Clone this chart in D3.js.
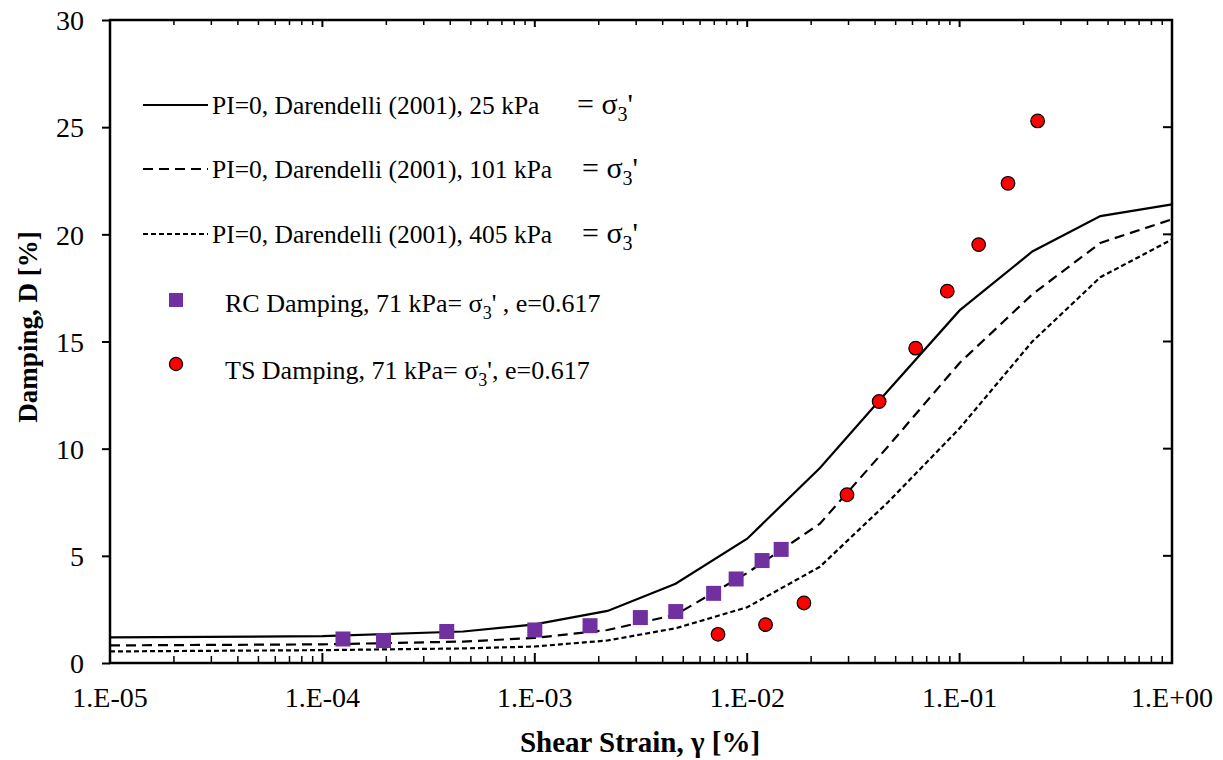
<!DOCTYPE html>
<html>
<head>
<meta charset="utf-8">
<script src="https://cdn.jsdelivr.net/npm/d3@7"></script>
<style>
  body { margin: 0; background: #fff; }
  svg text { font-family: "Liberation Serif", "Times New Roman", serif; fill: #000; }
</style>
</head>
<body>
<svg id="chart" width="1223" height="760"></svg>
<script>
// Darendelli curves, strain in %
const curveStrain = [1e-5, 1e-4, 4.6e-4, 1e-3, 2.2e-3, 4.6e-3, 1e-2, 2.2e-2, 4.6e-2, 1e-1, 2.2e-1, 4.6e-1, 1];
const d25 = [1.2, 1.25, 1.47, 1.8, 2.43, 3.7, 5.8, 9.1, 12.7, 16.45, 19.2, 20.85, 21.4];
const d101 = [0.82, 0.87, 1.0, 1.17, 1.54, 2.25, 4.2, 6.5, 10.1, 14.0, 17.2, 19.6, 20.7];
const d405 = [0.54, 0.6, 0.68, 0.77, 1.05, 1.62, 2.6, 4.49, 7.5, 10.95, 15.0, 18.0, 19.76];

// measured data
const rcStrain = [1.25e-4, 1.94e-4, 3.85e-4, 1.0e-3, 1.82e-3, 3.14e-3, 4.61e-3, 6.95e-3, 8.87e-3, 1.175e-2, 1.445e-2];
const rcDamping = [1.12, 1.05, 1.47, 1.54, 1.74, 2.12, 2.4, 3.25, 3.92, 4.78, 5.3];
const tsStrain = [7.29e-3, 1.22e-2, 1.85e-2, 2.95e-2, 4.18e-2, 6.21e-2, 8.75e-2, 0.123, 0.169, 0.233];
const tsDamping = [1.34, 1.79, 2.8, 7.85, 12.2, 14.69, 17.35, 19.52, 22.38, 25.29];

const xTicks = [1e-5, 1e-4, 1e-3, 1e-2, 1e-1, 1];
const xTickLabels = ["1.E-05", "1.E-04", "1.E-03", "1.E-02", "1.E-01", "1.E+00"];
const yTicks = [0, 5, 10, 15, 20, 25, 30];

const plotLeft = 110, plotRight = 1172, plotTop = 20, plotBottom = 663;
const serif = "Liberation Serif, Times New Roman, serif";
const svg = d3.select("#chart");

const x = d3.scaleLog().domain([1e-5, 1]).range([plotLeft, plotRight]);
const y = d3.scaleLinear().domain([0, 30]).range([plotBottom, plotTop]);

// minor ticks for log axis
const minorTicks = [];
for (let e = -5; e < 0; e++) {
  for (let m = 2; m <= 9; m++) minorTicks.push(m * Math.pow(10, e));
}

// bottom axis (ticks inward)
const gx = svg.append("g").attr("transform", "translate(0," + plotBottom + ")");
gx.selectAll("line.minor").data(minorTicks).enter().append("line")
  .attr("x1", d => x(d)).attr("x2", d => x(d)).attr("y1", 0).attr("y2", -7)
  .attr("stroke", "#000").attr("stroke-width", 1.5);
gx.selectAll("line.major").data(xTicks).enter().append("line")
  .attr("x1", d => x(d)).attr("x2", d => x(d)).attr("y1", 0).attr("y2", -10)
  .attr("stroke", "#000").attr("stroke-width", 2);
gx.selectAll("text").data(xTicks).enter().append("text")
  .attr("x", d => x(d)).attr("y", 44)
  .attr("text-anchor", "middle").attr("font-family", serif).style("font-size", "28px")
  .text((d, i) => xTickLabels[i]);

// top axis (ticks inward)
const gt = svg.append("g").attr("transform", "translate(0," + plotTop + ")");
gt.selectAll("line.minor").data(minorTicks).enter().append("line")
  .attr("x1", d => x(d)).attr("x2", d => x(d)).attr("y1", 0).attr("y2", 5)
  .attr("stroke", "#000").attr("stroke-width", 1.5);
gt.selectAll("line.major").data(xTicks).enter().append("line")
  .attr("x1", d => x(d)).attr("x2", d => x(d)).attr("y1", 0).attr("y2", 7)
  .attr("stroke", "#000").attr("stroke-width", 2);

// left axis
const gy = svg.append("g").attr("transform", "translate(" + plotLeft + ",0)");
gy.call(d3.axisLeft(y).tickValues(yTicks).tickSize(8).tickPadding(18).tickFormat(d3.format("d")))
  .call(g => g.select(".domain").remove());
gy.selectAll("line").attr("stroke-width", 2);
gy.selectAll("text").attr("dy", "0.35em").style("font-size", "28px").style("font-family", serif);

// right axis ticks inward
svg.append("g").selectAll("line").data(yTicks).enter().append("line")
  .attr("x1", plotRight).attr("x2", plotRight - 9).attr("y1", d => y(d)).attr("y2", d => y(d))
  .attr("stroke", "#000").attr("stroke-width", 2);

// frame
svg.append("rect").attr("x", plotLeft).attr("y", plotTop)
  .attr("width", plotRight - plotLeft).attr("height", plotBottom - plotTop)
  .attr("fill", "none").attr("stroke", "#000").attr("stroke-width", 2.5);

// axis titles
svg.append("text").attr("x", 640).attr("y", 752).attr("text-anchor", "middle")
  .attr("font-family", serif).style("font-size", "29px").style("font-weight", "bold")
  .text("Shear Strain, γ [%]");
svg.append("text").attr("transform", "translate(37,327) rotate(-90)")
  .attr("text-anchor", "middle").attr("font-family", serif)
  .style("font-size", "27px").style("font-weight", "bold").text("Damping, D [%]");

// curves
const line = d3.line().x(d => x(d[0])).y(d => y(d[1]));
const curves = [
  { vals: d25, dash: null },
  { vals: d101, dash: "10,6" },
  { vals: d405, dash: "5,3" }
];
curves.forEach(c => {
  svg.append("path")
    .datum(curveStrain.map((s, i) => [s, c.vals[i]]))
    .attr("d", line).attr("fill", "none").attr("stroke", "#000").attr("stroke-width", 2.2)
    .attr("stroke-dasharray", c.dash);
});

// RC squares
svg.append("g").selectAll("rect").data(rcStrain.map((s, i) => [s, rcDamping[i]])).enter().append("rect")
  .attr("x", d => x(d[0]) - 7.5).attr("y", d => y(d[1]) - 7.5)
  .attr("width", 15).attr("height", 15).attr("fill", "#7030A0");

// TS circles
svg.append("g").selectAll("circle").data(tsStrain.map((s, i) => [s, tsDamping[i]])).enter().append("circle")
  .attr("cx", d => x(d[0])).attr("cy", d => y(d[1])).attr("r", 6.8)
  .attr("fill", "#FF0000").attr("stroke", "#000").attr("stroke-width", 1.2);

// legend
const legend = svg.append("g");
const legLines = [
  { y: 105, dash: null, label: "PI=0, Darendelli (2001), 25 kPa", sx: 577 },
  { y: 169, dash: "10,6", label: "PI=0, Darendelli (2001), 101 kPa", sx: 582 },
  { y: 234, dash: "5,3", label: "PI=0, Darendelli (2001), 405 kPa", sx: 582 }
];
function sigmaText(g, xPos, yPos, parts, size) {
  const t = g.append("text").attr("x", xPos).attr("y", yPos)
    .attr("font-family", serif).style("font-size", size + "px");
  t.append("tspan").text(parts[0]);
  t.append("tspan").attr("dy", 7).style("font-size", Math.round(size * 0.68) + "px").text("3");
  t.append("tspan").attr("dy", -7).text(parts[1]);
}
legLines.forEach(l => {
  legend.append("line").attr("x1", 143).attr("x2", 208).attr("y1", l.y).attr("y2", l.y)
    .attr("stroke", "#000").attr("stroke-width", 2.2).attr("stroke-dasharray", l.dash);
  legend.append("text").attr("x", 212).attr("y", l.y + 9)
    .attr("font-family", serif).style("font-size", "25.5px").text(l.label);
  sigmaText(legend, l.sx, l.y + 9, ["= σ", "'"], 30);
});

legend.append("rect").attr("x", 169).attr("y", 293).attr("width", 14).attr("height", 14).attr("fill", "#7030A0");
sigmaText(legend, 225, 312, ["RC Damping, 71 kPa= σ", "' , e=0.617"], 26);

legend.append("circle").attr("cx", 176).attr("cy", 364).attr("r", 6.6)
  .attr("fill", "#FF0000").attr("stroke", "#000").attr("stroke-width", 1.2);
sigmaText(legend, 225, 379, ["TS Damping, 71 kPa= σ", "', e=0.617"], 26);
</script>
</body>
</html>
